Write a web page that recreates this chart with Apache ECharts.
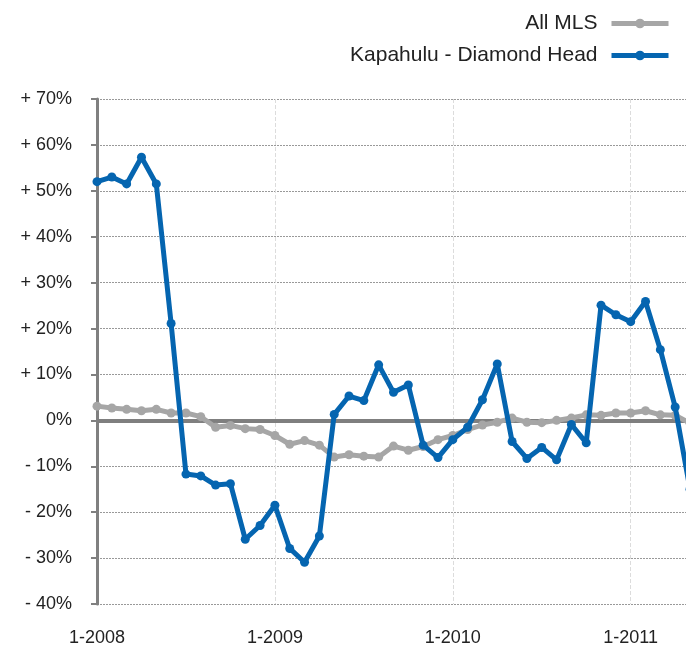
<!DOCTYPE html>
<html>
<head>
<meta charset="utf-8">
<script src="https://cdn.jsdelivr.net/npm/echarts@6/dist/echarts.min.js"></script>
<style>
  html, body { margin: 0; padding: 0; background: #fff; overflow: hidden; }
  /* the plot runs past the right edge of the window, as in the source */
  #main { width: 700px; height: 647px; }
</style>
</head>
<body>
<div id="main"></div>
<script>
// monthly categories, Jan 2008 .. May 2011
var months = [
    '1-2008', '2-2008', '3-2008', '4-2008', '5-2008', '6-2008', '7-2008', '8-2008', '9-2008', '10-2008', '11-2008', '12-2008',
    '1-2009', '2-2009', '3-2009', '4-2009', '5-2009', '6-2009', '7-2009', '8-2009', '9-2009', '10-2009', '11-2009', '12-2009',
    '1-2010', '2-2010', '3-2010', '4-2010', '5-2010', '6-2010', '7-2010', '8-2010', '9-2010', '10-2010', '11-2010', '12-2010',
    '1-2011', '2-2011', '3-2011', '4-2011', '5-2011'
];

// All MLS (%)
var allMls = [
    3.1, 2.7, 2.4, 2.1, 2.4, 1.6, 1.6, 0.8, -1.5, -1.1, -1.8, -2.0,
    -3.3, -5.2, -4.4, -5.4, -8.0, -7.5, -7.8, -8.0, -5.6, -6.5, -5.7, -4.2,
    -3.3, -2.0, -1.0, -0.4, 0.5, -0.4, -0.5, 0.0, 0.5, 1.2, 1.1, 1.6,
    1.6, 2.1, 1.2, 1.1, -0.6
];

// Kapahulu - Diamond Head (%)
var kapahulu = [
    52.0, 53.0, 51.5, 57.3, 51.5, 21.1, -11.7, -12.1, -14.1, -13.8, -25.9, -22.9,
    -18.5, -27.9, -30.9, -25.2, 1.3, 5.3, 4.3, 12.1, 6.1, 7.7, -5.4, -8.1,
    -4.2, -1.5, 4.5, 12.3, -4.6, -8.3, -5.9, -8.6, -0.9, -4.9, 25.1, 23.0,
    21.5, 25.9, 15.4, 2.9, -15.0
];

var yMin = -40, yMax = 70, yStep = 10;

var FONT = '"Liberation Sans", Arial, Helvetica, sans-serif';

var chart = echarts.init(document.getElementById('main'));

var option = {
    animation: false,
    textStyle: {fontFamily: FONT},
    legend: {
        orient: 'vertical',
        right: 24,
        top: 8,
        align: 'right',
        itemWidth: 57,
        itemHeight: 12,
        itemGap: 11,
        lineStyle: {width: 5},
        textStyle: {fontSize: 21, color: '#222', fontFamily: FONT, padding: [0, 9, 0, 0]},
        data: ['All MLS', 'Kapahulu - Diamond Head']
    },
    grid: {
        left: 97,
        right: 10,
        top: 99,
        bottom: 41
    },
    xAxis: {
        type: 'category',
        boundaryGap: false,
        data: months,
        axisLine: {show: false},
        axisTick: {show: false},
        axisLabel: {
            interval: 11,
            margin: 25,
            fontSize: 18,
            color: '#222',
            fontFamily: FONT
        },
        splitLine: {
            show: true,
            interval: 11,
            lineStyle: {color: '#dcdcdc', width: 1, type: [4, 2]}
        }
    },
    yAxis: {
        type: 'value',
        min: yMin,
        max: yMax,
        interval: yStep,
        axisLine: {show: true, lineStyle: {color: '#808080', width: 3}},
        axisTick: {show: true, length: 6, lineStyle: {color: '#808080', width: 2}},
        axisLabel: {
            margin: 25,
            fontSize: 18,
            color: '#222',
            fontFamily: FONT,
            formatter: function (v) {
                if (v > 0) return '+ ' + v + '%';
                if (v < 0) return '- ' + Math.abs(v) + '%';
                return '0%';
            }
        },
        splitLine: {
            show: true,
            lineStyle: {color: '#999', width: 1, type: [2, 1]}
        }
    },
    series: [
        {
            name: 'All MLS',
            type: 'line',
            data: allMls,
            symbol: 'circle',
            symbolSize: 9,
            showAllSymbol: true,
            color: '#a6a6a6',
            lineStyle: {color: '#a6a6a6', width: 5},
            itemStyle: {color: '#a6a6a6'},
            z: 3,
            markLine: {
                silent: true,
                symbol: 'none',
                label: {show: false},
                lineStyle: {color: '#7f7f7f', width: 4, type: 'solid'},
                data: [{yAxis: 0}],
                z: 2
            }
        },
        {
            name: 'Kapahulu - Diamond Head',
            type: 'line',
            data: kapahulu,
            symbol: 'circle',
            symbolSize: 9,
            showAllSymbol: true,
            color: '#0565b0',
            lineStyle: {color: '#0565b0', width: 5},
            itemStyle: {color: '#0565b0'},
            z: 4
        }
    ]
};

chart.setOption(option);
</script>
</body>
</html>
